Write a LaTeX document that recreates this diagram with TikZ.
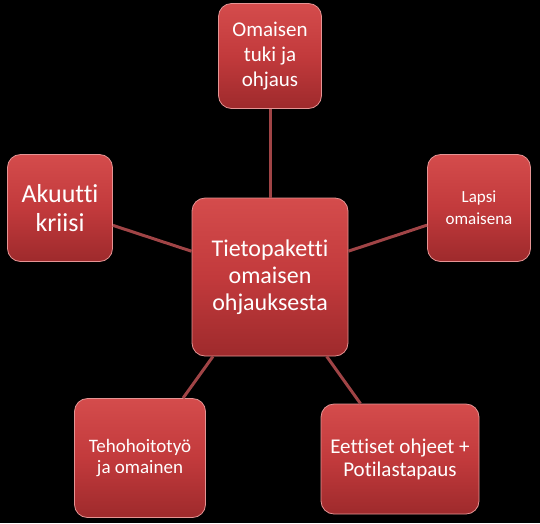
\documentclass[tikz,border=0pt]{standalone}
\usepackage{fontspec}
\setmainfont{Carlito}[Ligatures=NoCommon]
\usetikzlibrary{shapes,calc}
\definecolor{boxtop}{HTML}{D44C4C}
\definecolor{boxmid}{HTML}{C23A3C}
\definecolor{boxbot}{HTML}{9E2A2C}
\definecolor{linkred}{HTML}{A04446}
\tikzset{
  topic/.style={rectangle, rounded corners=13pt, draw=boxtop!60!white, line width=0.8pt,
    top color=boxtop, bottom color=boxbot, middle color=boxmid,
    text=white, align=center, inner sep=2pt},
  link/.style={draw=linkred, line width=3pt}
}

\begin{document}
\begin{tikzpicture}[x=1pt,y=-1pt]
  % black background (also fixes the size)
  \fill[black] (0,0) rectangle (540,523);
  % centre box
  \node[topic, minimum width=156pt, minimum height=158pt, font=\fontsize{24}{27}\selectfont]
    (tieto) at (270,277) {Tietopaketti\\omaisen\\ohjauksesta};
  % outer boxes
  \node[topic, minimum width=103pt, minimum height=105pt, font=\fontsize{21}{25}\selectfont]
    (tuki) at (270,56) {Omaisen\\tuki ja\\ohjaus};
  \node[topic, minimum width=105pt, minimum height=107pt, font=\fontsize{26}{29}\selectfont]
    (akuutti) at (60,208) {Akuutti\\kriisi};
  \node[topic, minimum width=103pt, minimum height=107pt, font=\fontsize{17}{22}\selectfont]
    (lapsi) at (479,208) {Lapsi\\omaisena};
  \node[topic, minimum width=131pt, minimum height=119pt, font=\fontsize{19}{21}\selectfont]
    (teho) at (140,458) {Tehohoitotyö\\ja omainen};
  \node[topic, minimum width=158pt, minimum height=110pt, font=\fontsize{21}{23}\selectfont]
    (eettiset) at (400,459) {Eettiset ohjeet +\\Potilastapaus};
  % connectors
  \draw[link] (tuki) -- (tieto);
  \draw[link] (akuutti) -- (tieto);
  \draw[link] (lapsi) -- (tieto);
  \draw[link] (teho) -- (tieto);
  \draw[link] (eettiset) -- (tieto);
\end{tikzpicture}
\end{document}
